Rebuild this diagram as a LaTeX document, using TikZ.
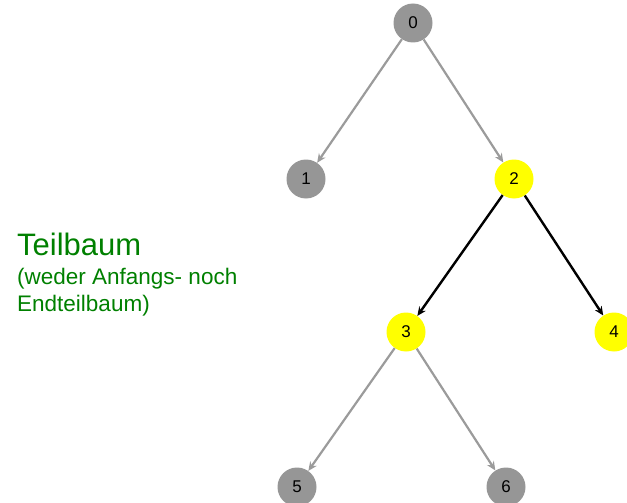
\documentclass[tikz,border=0pt]{standalone}
\usepackage{fontspec}
\setmainfont{Liberation Sans}
\usetikzlibrary{arrows.meta}
\definecolor{ngray}{RGB}{150,150,150}
\definecolor{egray}{RGB}{155,155,155}
\definecolor{nyellow}{RGB}{255,255,0}
\definecolor{tgreen}{RGB}{0,128,0}
\begin{document}
\begin{tikzpicture}[x=1pt,y=-1pt,
  vnode/.style={circle,minimum size=39pt,inner sep=0pt,font=\fontsize{17}{17}\selectfont},
  gnode/.style={vnode,fill=ngray},
  ynode/.style={vnode,fill=nyellow},
  garrow/.style={draw=egray,line width=2.2pt,-{Stealth[length=9pt,width=8pt]}},
  barrow/.style={draw=black,line width=2.4pt,-{Stealth[length=9pt,width=8pt]}}]
\useasboundingbox (0,0) rectangle (627,503);
\node[gnode] (n0) at (413,23) {0};
\node[gnode] (n1) at (306,179) {1};
\node[ynode] (n2) at (514,179) {2};
\node[ynode] (n3) at (406,332) {3};
\node[ynode] (n4) at (614,332) {4};
\node[gnode] (n5) at (297,487) {5};
\node[gnode] (n6) at (506,487) {6};
\draw[garrow] (n0) -- (n1);
\draw[garrow] (n0) -- (n2);
\draw[barrow] (n2) -- (n3);
\draw[barrow] (n2) -- (n4);
\draw[garrow] (n3) -- (n5);
\draw[garrow] (n3) -- (n6);
\node[anchor=base west,inner sep=0pt,text=tgreen,font=\fontsize{31}{31}\selectfont] (title) at (17,255) {Teilbaum};
\node[anchor=base west,inner sep=0pt,text=tgreen,align=left,font=\fontsize{22.5}{27}\selectfont] (sub) at (17,311) {(weder Anfangs- noch\\Endteilbaum)};
\end{tikzpicture}
\end{document}
